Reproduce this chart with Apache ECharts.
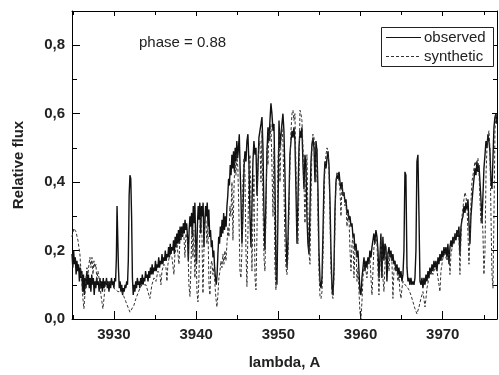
<!DOCTYPE html>
<html><head><meta charset="utf-8">
<script src="https://cdn.jsdelivr.net/npm/echarts@6/dist/echarts.min.js"></script>
<style>html,body{margin:0;padding:0;background:#fff}#c{width:499px;height:375px}</style>
</head><body><div id="c"></div>
<script>
// Observed spectrum: wavelength (A) and relative flux
const obsWave = [3924.90,3925.00,3925.10,3925.20,3925.30,3925.40,3925.50,3925.60,3925.70,3925.80,3925.90,3926.00,3926.10,3926.20,3926.30,3926.40,3926.50,3926.60,3926.70,3926.80,3926.90,3927.00,3927.10,3927.20,3927.30,3927.40,3927.50,3927.60,3927.70,3927.80,3927.90,3928.00,3928.10,3928.20,3928.30,3928.40,3928.50,3928.60,3928.70,3928.80,3928.90,3929.00,3929.10,3929.20,3929.30,3929.40,3929.50,3929.60,3929.70,3929.80,3929.90,3930.00,3930.10,3930.20,3930.30,3930.38,3930.46,3930.55,3930.65,3930.75,3930.85,3930.95,3931.05,3931.15,3931.25,3931.35,3931.45,3931.55,3931.65,3931.75,3931.85,3931.95,3932.05,3932.15,3932.25,3932.35,3932.45,3932.55,3932.65,3932.75,3932.85,3932.95,3933.05,3933.15,3933.25,3933.35,3933.45,3933.55,3933.65,3933.75,3933.85,3933.95,3934.05,3934.15,3934.25,3934.35,3934.45,3934.55,3934.65,3934.75,3934.85,3934.95,3935.05,3935.15,3935.25,3935.35,3935.45,3935.55,3935.65,3935.75,3935.85,3935.95,3936.05,3936.15,3936.25,3936.35,3936.45,3936.55,3936.65,3936.75,3936.85,3936.95,3937.05,3937.15,3937.25,3937.35,3937.45,3937.55,3937.65,3937.75,3937.85,3937.95,3938.05,3938.15,3938.25,3938.35,3938.45,3938.55,3938.65,3938.75,3938.85,3938.95,3939.05,3939.15,3939.25,3939.35,3939.45,3939.55,3939.65,3939.75,3939.85,3939.95,3940.05,3940.15,3940.25,3940.35,3940.45,3940.55,3940.65,3940.75,3940.85,3940.95,3941.05,3941.15,3941.25,3941.35,3941.45,3941.55,3941.65,3941.75,3941.85,3941.95,3942.05,3942.15,3942.25,3942.35,3942.45,3942.55,3942.65,3942.75,3942.85,3942.95,3943.05,3943.15,3943.25,3943.35,3943.45,3943.55,3943.65,3943.75,3943.85,3943.95,3944.05,3944.15,3944.25,3944.35,3944.45,3944.55,3944.65,3944.75,3944.85,3944.95,3945.05,3945.15,3945.25,3945.35,3945.45,3945.57,3945.69,3945.82,3945.94,3946.06,3946.18,3946.30,3946.43,3946.55,3946.67,3946.79,3946.91,3947.03,3947.16,3947.28,3947.40,3947.52,3947.64,3947.76,3947.89,3948.01,3948.13,3948.25,3948.37,3948.49,3948.62,3948.74,3948.86,3948.98,3949.10,3949.22,3949.35,3949.47,3949.59,3949.71,3949.83,3949.95,3950.08,3950.20,3950.32,3950.44,3950.56,3950.68,3950.81,3950.93,3951.05,3951.17,3951.29,3951.41,3951.54,3951.66,3951.78,3951.90,3952.02,3952.14,3952.27,3952.39,3952.51,3952.63,3952.75,3952.87,3953.00,3953.12,3953.24,3953.36,3953.48,3953.60,3953.73,3953.85,3953.97,3954.09,3954.21,3954.34,3954.46,3954.58,3954.70,3954.82,3954.94,3955.07,3955.19,3955.31,3955.43,3955.55,3955.67,3955.80,3955.92,3956.04,3956.16,3956.28,3956.40,3956.53,3956.65,3956.77,3956.89,3957.01,3957.13,3957.26,3957.38,3957.50,3957.62,3957.74,3957.86,3957.99,3958.11,3958.23,3958.35,3958.47,3958.59,3958.72,3958.84,3958.96,3959.08,3959.20,3959.32,3959.45,3959.57,3959.69,3959.81,3959.93,3960.05,3960.17,3960.30,3960.42,3960.54,3960.66,3960.78,3960.90,3961.02,3961.14,3961.27,3961.39,3961.51,3961.63,3961.75,3961.87,3962.00,3962.12,3962.24,3962.36,3962.48,3962.60,3962.72,3962.85,3962.97,3963.09,3963.21,3963.33,3963.46,3963.58,3963.70,3963.82,3963.94,3964.06,3964.19,3964.31,3964.43,3964.55,3964.67,3964.79,3964.92,3965.04,3965.16,3965.28,3965.40,3965.52,3965.65,3965.77,3965.89,3966.01,3966.13,3966.25,3966.38,3966.50,3966.62,3966.74,3966.86,3966.98,3967.11,3967.23,3967.35,3967.47,3967.59,3967.71,3967.84,3967.96,3968.08,3968.20,3968.32,3968.44,3968.57,3968.69,3968.81,3968.93,3969.05,3969.17,3969.30,3969.42,3969.54,3969.66,3969.78,3969.90,3970.03,3970.15,3970.27,3970.39,3970.51,3970.63,3970.76,3970.88,3971.00,3971.12,3971.24,3971.36,3971.49,3971.61,3971.73,3971.85,3971.97,3972.09,3972.22,3972.34,3972.46,3972.58,3972.70,3972.82,3972.95,3973.07,3973.19,3973.31,3973.43,3973.55,3973.68,3973.80,3973.92,3974.04,3974.16,3974.28,3974.41,3974.53,3974.65,3974.77,3974.89,3975.01,3975.14,3975.26,3975.38,3975.50,3975.62,3975.74,3975.87,3975.99,3976.11,3976.23,3976.35,3976.47,3976.59];
const obsFlux = [0.19,0.15,0.20,0.16,0.18,0.13,0.17,0.14,0.16,0.11,0.15,0.12,0.14,0.08,0.13,0.07,0.12,0.09,0.14,0.10,0.13,0.09,0.12,0.08,0.13,0.10,0.12,0.07,0.11,0.09,0.12,0.10,0.11,0.08,0.12,0.09,0.11,0.08,0.12,0.09,0.11,0.10,0.12,0.09,0.11,0.08,0.11,0.09,0.12,0.10,0.11,0.09,0.12,0.11,0.18,0.33,0.33,0.15,0.09,0.11,0.08,0.10,0.07,0.09,0.08,0.10,0.09,0.11,0.10,0.17,0.36,0.42,0.41,0.30,0.12,0.07,0.10,0.08,0.11,0.09,0.12,0.10,0.11,0.09,0.12,0.10,0.13,0.10,0.12,0.11,0.14,0.12,0.13,0.11,0.14,0.12,0.15,0.13,0.16,0.13,0.15,0.14,0.17,0.14,0.16,0.15,0.18,0.15,0.17,0.16,0.19,0.16,0.18,0.17,0.20,0.17,0.19,0.18,0.21,0.18,0.22,0.19,0.21,0.20,0.23,0.19,0.24,0.21,0.25,0.22,0.26,0.22,0.27,0.23,0.27,0.24,0.28,0.25,0.29,0.26,0.28,0.24,0.17,0.26,0.30,0.27,0.31,0.24,0.33,0.28,0.34,0.22,0.16,0.27,0.33,0.29,0.34,0.25,0.33,0.30,0.34,0.21,0.28,0.33,0.30,0.34,0.27,0.32,0.24,0.26,0.21,0.23,0.18,0.20,0.15,0.12,0.10,0.13,0.19,0.24,0.22,0.27,0.24,0.29,0.25,0.31,0.26,0.30,0.27,0.33,0.36,0.41,0.39,0.45,0.42,0.48,0.44,0.49,0.43,0.50,0.46,0.52,0.47,0.50,0.54,0.44,0.36,0.22,0.30,0.44,0.49,0.46,0.52,0.54,0.45,0.30,0.21,0.33,0.46,0.52,0.48,0.50,0.36,0.44,0.53,0.55,0.57,0.59,0.50,0.31,0.20,0.35,0.49,0.56,0.52,0.58,0.63,0.60,0.55,0.57,0.40,0.14,0.10,0.30,0.58,0.50,0.54,0.57,0.60,0.55,0.42,0.25,0.15,0.23,0.35,0.48,0.52,0.55,0.53,0.56,0.52,0.38,0.22,0.35,0.50,0.55,0.53,0.56,0.45,0.38,0.48,0.45,0.30,0.22,0.19,0.32,0.46,0.51,0.53,0.50,0.40,0.52,0.49,0.38,0.20,0.11,0.09,0.12,0.25,0.40,0.46,0.44,0.47,0.49,0.45,0.35,0.20,0.09,0.07,0.15,0.32,0.40,0.42,0.41,0.43,0.40,0.38,0.40,0.36,0.37,0.34,0.35,0.31,0.32,0.29,0.30,0.27,0.28,0.24,0.25,0.20,0.22,0.18,0.20,0.14,0.08,0.07,0.12,0.15,0.18,0.14,0.17,0.15,0.18,0.16,0.20,0.18,0.21,0.23,0.25,0.22,0.26,0.24,0.20,0.12,0.18,0.25,0.12,0.24,0.17,0.22,0.21,0.11,0.19,0.21,0.18,0.20,0.17,0.19,0.16,0.17,0.14,0.16,0.13,0.15,0.12,0.14,0.11,0.13,0.20,0.43,0.42,0.15,0.11,0.12,0.10,0.12,0.10,0.11,0.10,0.12,0.20,0.46,0.48,0.30,0.11,0.10,0.12,0.09,0.12,0.10,0.13,0.11,0.14,0.12,0.15,0.13,0.16,0.14,0.17,0.15,0.17,0.14,0.18,0.16,0.19,0.17,0.20,0.18,0.21,0.19,0.21,0.18,0.22,0.16,0.21,0.23,0.21,0.24,0.22,0.25,0.23,0.26,0.24,0.27,0.19,0.27,0.29,0.30,0.33,0.31,0.34,0.32,0.35,0.28,0.22,0.30,0.34,0.38,0.41,0.44,0.42,0.46,0.43,0.45,0.40,0.35,0.28,0.36,0.44,0.48,0.52,0.50,0.54,0.52,0.49,0.40,0.38,0.47,0.56,0.59,0.60,0.57];

// Synthetic spectrum
const synWave = [3924.89,3925.13,3925.38,3925.62,3925.86,3925.99,3926.11,3926.23,3926.35,3926.47,3926.60,3926.72,3926.84,3926.96,3927.08,3927.20,3927.33,3927.45,3927.57,3927.69,3927.81,3927.93,3928.06,3928.18,3928.30,3928.42,3928.54,3928.66,3928.79,3928.91,3929.03,3929.27,3929.51,3929.76,3930.00,3930.24,3930.49,3930.73,3930.97,3931.22,3931.46,3931.70,3931.95,3932.07,3932.19,3932.43,3932.68,3932.92,3933.16,3933.41,3933.65,3933.89,3934.14,3934.38,3934.62,3934.87,3935.11,3935.35,3935.60,3935.72,3935.84,3936.08,3936.33,3936.45,3936.57,3936.81,3937.06,3937.30,3937.42,3937.67,3937.91,3938.03,3938.27,3938.52,3938.64,3938.76,3939.00,3939.12,3939.25,3939.37,3939.49,3939.61,3939.73,3939.85,3939.98,3940.10,3940.22,3940.34,3940.46,3940.58,3940.71,3940.83,3940.95,3941.07,3941.19,3941.31,3941.44,3941.56,3941.68,3941.80,3941.92,3942.04,3942.16,3942.29,3942.41,3942.53,3942.65,3942.77,3942.90,3943.02,3943.14,3943.26,3943.38,3943.50,3943.63,3943.75,3943.87,3943.99,3944.11,3944.23,3944.36,3944.48,3944.60,3944.72,3944.84,3944.96,3945.08,3945.21,3945.33,3945.45,3945.57,3945.69,3945.82,3945.94,3946.06,3946.18,3946.30,3946.43,3946.55,3946.67,3946.79,3946.91,3947.03,3947.16,3947.28,3947.40,3947.52,3947.64,3947.76,3947.89,3948.01,3948.13,3948.25,3948.37,3948.49,3948.62,3948.74,3948.86,3948.98,3949.10,3949.22,3949.35,3949.47,3949.59,3949.71,3949.83,3949.95,3950.08,3950.20,3950.32,3950.44,3950.56,3950.68,3950.81,3950.93,3951.05,3951.17,3951.29,3951.41,3951.54,3951.66,3951.78,3951.90,3952.02,3952.14,3952.27,3952.39,3952.51,3952.63,3952.75,3952.87,3953.00,3953.12,3953.24,3953.36,3953.48,3953.60,3953.73,3953.85,3953.97,3954.09,3954.21,3954.34,3954.46,3954.58,3954.70,3954.82,3954.94,3955.07,3955.19,3955.31,3955.43,3955.55,3955.67,3955.80,3955.92,3956.04,3956.16,3956.28,3956.40,3956.53,3956.65,3956.77,3956.89,3957.01,3957.13,3957.26,3957.38,3957.50,3957.62,3957.74,3957.86,3957.99,3958.11,3958.23,3958.35,3958.47,3958.59,3958.72,3958.84,3958.96,3959.08,3959.20,3959.32,3959.45,3959.57,3959.69,3959.81,3959.93,3960.05,3960.17,3960.30,3960.42,3960.66,3960.78,3960.90,3961.14,3961.27,3961.39,3961.51,3961.63,3961.87,3962.00,3962.12,3962.24,3962.36,3962.48,3962.60,3962.72,3962.85,3962.97,3963.09,3963.33,3963.46,3963.58,3963.82,3963.94,3964.06,3964.19,3964.43,3964.55,3964.67,3964.79,3964.92,3965.04,3965.16,3965.40,3965.65,3965.89,3966.13,3966.38,3966.62,3966.86,3966.98,3967.11,3967.35,3967.59,3967.71,3967.84,3967.96,3968.08,3968.32,3968.57,3968.81,3969.05,3969.30,3969.54,3969.66,3969.78,3970.03,3970.27,3970.51,3970.76,3970.88,3971.00,3971.24,3971.49,3971.73,3971.97,3972.09,3972.22,3972.34,3972.58,3972.70,3972.82,3972.95,3973.07,3973.19,3973.31,3973.43,3973.55,3973.80,3973.92,3974.04,3974.28,3974.41,3974.53,3974.65,3974.77,3974.89,3975.01,3975.14,3975.26,3975.38,3975.50,3975.62,3975.74,3975.87,3975.99,3976.11,3976.23,3976.35,3976.47,3976.59];
const synFlux = [0.24,0.265,0.255,0.23,0.19,0.14,0.10,0.06,0.03,0.07,0.12,0.15,0.13,0.16,0.18,0.15,0.18,0.13,0.17,0.15,0.16,0.11,0.14,0.12,0.10,0.07,0.05,0.03,0.06,0.09,0.11,0.10,0.11,0.10,0.09,0.085,0.08,0.075,0.08,0.065,0.05,0.035,0.02,0.015,0.02,0.04,0.06,0.075,0.09,0.10,0.095,0.10,0.08,0.06,0.10,0.12,0.11,0.14,0.13,0.10,0.14,0.16,0.15,0.11,0.16,0.19,0.18,0.13,0.19,0.22,0.16,0.23,0.25,0.24,0.18,0.25,0.22,0.10,0.066,0.15,0.27,0.18,0.26,0.12,0.22,0.08,0.05,0.12,0.27,0.30,0.24,0.075,0.20,0.30,0.29,0.22,0.27,0.10,0.07,0.16,0.17,0.13,0.15,0.10,0.06,0.035,0.07,0.12,0.14,0.17,0.15,0.19,0.16,0.20,0.17,0.22,0.27,0.24,0.33,0.30,0.40,0.23,0.38,0.46,0.42,0.48,0.44,0.30,0.14,0.12,0.20,0.40,0.47,0.42,0.20,0.095,0.25,0.45,0.48,0.35,0.14,0.30,0.42,0.12,0.085,0.25,0.46,0.50,0.52,0.40,0.55,0.33,0.18,0.14,0.30,0.50,0.45,0.55,0.52,0.57,0.45,0.30,0.50,0.15,0.085,0.20,0.45,0.55,0.40,0.52,0.56,0.52,0.38,0.22,0.15,0.13,0.18,0.30,0.45,0.55,0.60,0.61,0.58,0.60,0.45,0.28,0.22,0.40,0.61,0.60,0.58,0.50,0.40,0.28,0.42,0.48,0.30,0.19,0.16,0.35,0.50,0.54,0.53,0.47,0.40,0.50,0.30,0.14,0.066,0.06,0.08,0.18,0.32,0.45,0.48,0.50,0.49,0.44,0.30,0.15,0.07,0.06,0.12,0.28,0.40,0.43,0.42,0.40,0.38,0.30,0.39,0.36,0.37,0.33,0.34,0.27,0.31,0.30,0.20,0.14,0.22,0.24,0.12,0.20,0.21,0.11,0.15,0.08,0.02,0.0,0.05,0.12,0.16,0.14,0.12,0.16,0.18,0.12,0.07,0.14,0.21,0.24,0.22,0.14,0.07,0.15,0.23,0.20,0.12,0.08,0.16,0.20,0.19,0.14,0.19,0.17,0.06,0.14,0.16,0.14,0.11,0.13,0.08,0.06,0.09,0.11,0.10,0.095,0.085,0.07,0.05,0.03,0.015,0.02,0.035,0.06,0.08,0.06,0.035,0.06,0.09,0.12,0.14,0.13,0.15,0.14,0.10,0.08,0.14,0.18,0.19,0.17,0.19,0.13,0.19,0.22,0.24,0.26,0.24,0.13,0.24,0.30,0.35,0.37,0.36,0.33,0.25,0.16,0.24,0.34,0.40,0.44,0.46,0.45,0.47,0.43,0.35,0.28,0.32,0.25,0.13,0.20,0.42,0.50,0.53,0.55,0.50,0.30,0.13,0.09,0.30,0.55,0.60,0.58];

// Axis ticks and labels
const xMajor = [3930, 3940, 3950, 3960, 3970];
const xMinor = [3925, 3935, 3945, 3955, 3965, 3975];
const yMajor = [0, 0.2, 0.4, 0.6, 0.8];
const yMinor = [0.1, 0.3, 0.5, 0.7];
const seriesNames = ['observed', 'synthetic'];
const phaseText = 'phase = 0.88';

const FONT = '"Liberation Sans", Arial, sans-serif';
const X_MIN = 3924.9, X_MAX = 3976.6, Y_MIN = 0, Y_MAX = 0.9;

function pairs(xs, ys) { return xs.map((x, i) => [x, ys[i]]); }

function xAx(pos, vals, len, labels, line) {
  return {
    type: 'value', position: pos, min: X_MIN, max: X_MAX, gridIndex: 0,
    axisLine: { show: line, onZero: false, lineStyle: { color: '#000', width: 1 } },
    axisTick: { show: true, inside: true, length: len, customValues: vals, lineStyle: { color: '#000', width: 1 } },
    axisLabel: labels ? { show: true, customValues: vals, margin: 8, color: '#222', fontFamily: FONT, fontWeight: 'bold', fontSize: 15,
      formatter: v => String(Math.round(v)) } : { show: false },
    splitLine: { show: false }
  };
}
function yAx(pos, vals, len, labels, line) {
  return {
    type: 'value', position: pos, min: Y_MIN, max: Y_MAX, gridIndex: 0,
    axisLine: { show: line, onZero: false, lineStyle: { color: '#000', width: 1 } },
    axisTick: { show: true, inside: true, length: len, customValues: vals, lineStyle: { color: '#000', width: 1 } },
    axisLabel: labels ? { show: true, customValues: vals, margin: 7, color: '#222', fontFamily: FONT, fontWeight: 'bold', fontSize: 15,
      formatter: v => v.toFixed(1).replace('.', ',') } : { show: false },
    splitLine: { show: false }
  };
}

const xAxes = [
  xAx('bottom', xMajor, 8, true, true),
  xAx('bottom', xMinor, 4, false, false),
  xAx('top', xMajor, 5, false, true),
  xAx('top', xMinor, 4, false, false)
];
xAxes[0].name = 'lambda, A';
xAxes[0].nameLocation = 'middle';
xAxes[0].nameGap = 36;
xAxes[0].nameTextStyle = { fontFamily: FONT, fontWeight: 'bold', fontSize: 15, color: '#222' };

const yAxes = [
  yAx('left', yMajor, 8, true, true),
  yAx('left', yMinor, 5, false, false),
  yAx('right', yMajor, 5, false, true),
  yAx('right', yMinor, 4, false, false)
];
yAxes[0].name = 'Relative flux';
yAxes[0].nameLocation = 'middle';
yAxes[0].nameRotate = 90;
yAxes[0].nameGap = 46;
yAxes[0].nameTextStyle = { fontFamily: FONT, fontWeight: 'bold', fontSize: 15, color: '#222' };

// legend box drawn as graphic (line samples, no markers)
const LG = { x: 381, y: 27, w: 112, h: 39 };
const legendGraphic = [
  { type: 'rect', shape: { x: LG.x + 0.5, y: LG.y + 0.5, width: LG.w, height: LG.h }, style: { fill: '#fff', stroke: '#222', lineWidth: 1 }, z: 10 },
  { type: 'line', shape: { x1: LG.x + 5, y1: LG.y + 10.5, x2: LG.x + 40, y2: LG.y + 10.5 }, style: { stroke: '#111', lineWidth: 1 }, z: 11 },
  { type: 'line', shape: { x1: LG.x + 5, y1: LG.y + 29.5, x2: LG.x + 40, y2: LG.y + 29.5 }, style: { stroke: '#333', lineWidth: 1, lineDash: [3, 2] }, z: 11 },
  { type: 'text', x: LG.x + 43, y: LG.y + 10.5, style: { text: seriesNames[0], font: '15px ' + FONT, fill: '#222', verticalAlign: 'middle' }, z: 11 },
  { type: 'text', x: LG.x + 43, y: LG.y + 29.5, style: { text: seriesNames[1], font: '15px ' + FONT, fill: '#222', verticalAlign: 'middle' }, z: 11 },
  { type: 'text', x: 139, y: 43, style: { text: phaseText, font: '15px ' + FONT, fill: '#222', verticalAlign: 'middle' }, z: 11 }
];

const chart = echarts.init(document.getElementById('c'), null, { renderer: 'canvas' });
chart.setOption({
  animation: false,
  backgroundColor: '#fff',
  grid: { left: 72, right: 2, top: 11, bottom: 52, containLabel: false },
  xAxis: xAxes,
  yAxis: yAxes,
  graphic: legendGraphic,
  series: [
    { name: seriesNames[0], type: 'line', data: pairs(obsWave, obsFlux), symbol: 'none', showSymbol: false,
      lineStyle: { color: '#111', width: 1.4 }, itemStyle: { color: '#111' }, z: 2 },
    { name: seriesNames[1], type: 'line', data: pairs(synWave, synFlux), symbol: 'none', showSymbol: false,
      lineStyle: { color: '#333', width: 1, type: [3, 2] }, itemStyle: { color: '#333' }, z: 3 }
  ]
});
</script>
</body></html>
